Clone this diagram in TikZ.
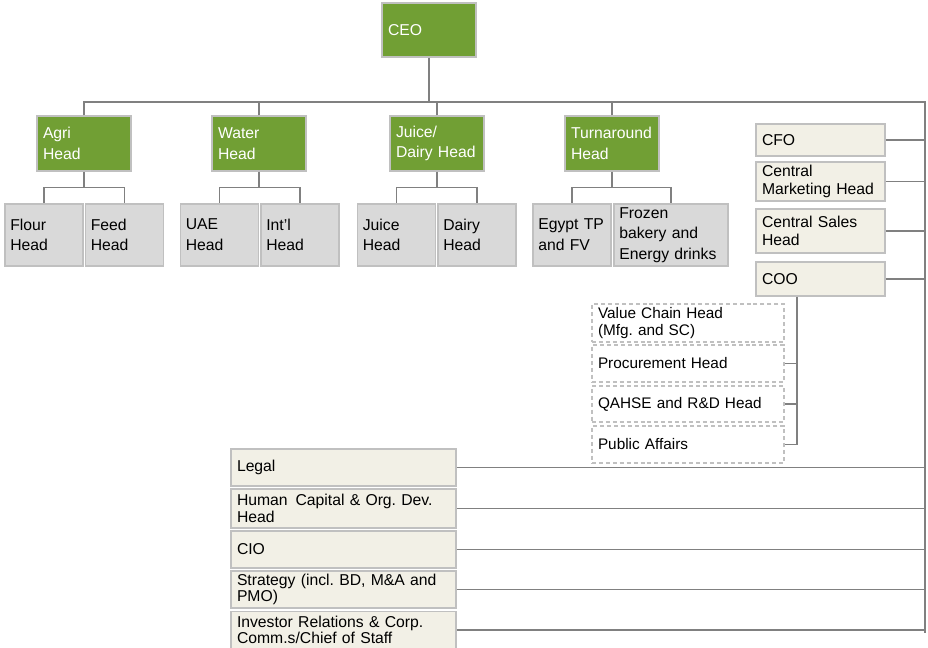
\documentclass[tikz,border=0pt]{standalone}
\usepackage{fontspec}
\setmainfont{Liberation Sans}
\frenchspacing
\definecolor{orggreen}{RGB}{113,159,52}
\definecolor{orggrey}{RGB}{217,217,217}
\definecolor{orgcream}{RGB}{242,240,230}
\definecolor{orgedge}{RGB}{192,192,192}
\definecolor{orgline}{RGB}{128,128,128}
\begin{document}
\begin{tikzpicture}[x=0.75pt, y=-0.75pt, font=\fontsize{11.8}{15.5}\selectfont]

	\tikzstyle{box}=[rectangle, draw=orgedge, line width=0.9pt, align=left, inner ysep=1pt, inner xsep=4.5pt]
	\tikzstyle{head}=[box, fill=orggreen, text=white, text width=61.5pt, minimum height=41.25pt]
	\tikzstyle{unit}=[box, fill=orggrey, inner xsep=4pt, text width=50.5pt, minimum height=46.5pt]
	\tikzstyle{staff}=[box, fill=orgcream, text width=87.75pt, font=\fontsize{11.8}{13}\selectfont]
	\tikzstyle{ops}=[box, dash pattern=on 3pt off 2.2pt, fill=white, text width=135pt, minimum height=27.75pt, font=\fontsize{11.5}{13}\selectfont]
	\tikzstyle{support}=[box, fill=orgcream, text width=159.75pt, minimum height=27.75pt, font=\fontsize{11.8}{12.5}\selectfont]
	\tikzstyle{link}=[draw=orgline, line width=1.1pt]

	\useasboundingbox (0,0) rectangle (928,648);

	% top of the tree
	\node at (429,30) (ceo) [head, minimum height=40.5pt] {CEO};

	\node at (84,143.5) (agri) [head] {Agri\\Head};
	\node at (259,143.5) (water) [head] {Water\\Head};
	\node at (437,143.5) (juicedairy) [head] {Juice/\\Dairy Head};
	\node at (612,143.5) (turnaround) [head] {Turnaround\\Head};

	\node at (44,235) (flour) [unit] {Flour\\Head};
	\node at (124.5,235) (feed) [unit] {Feed\\Head};
	\node at (219.5,235) (uae) [unit] {UAE\\Head};
	\node at (300,235) (intl) [unit] {Int'l\\Head};
	\node at (396.5,235) (juice) [unit] {Juice\\Head};
	\node at (477,235) (dairy) [unit] {Dairy\\Head};
	\node at (572,235) (egypt) [unit] {Egypt TP\\and FV};
	\node at (671,235) (frozen) [unit, text width=77.5pt] {Frozen\\bakery and\\Energy drinks};

	% central functions
	\node at (820.5,140) (cfo) [staff, minimum height=24pt] {CFO};
	\node at (820.5,181.5) (cmkt) [staff, minimum height=29.25pt] {Central\\Marketing Head};
	\node at (820.5,231) (csales) [staff, minimum height=33pt] {Central Sales\\Head};
	\node at (820.5,279) (coo) [staff, minimum height=25.5pt] {COO};

	\node at (688,323) (vchain) [ops, minimum height=28.5pt] {Value Chain Head\\(Mfg. and SC)};
	\node at (688,363.5) (proc) [ops] {Procurement Head};
	\node at (688,404) (qahse) [ops, minimum height=27pt] {QAHSE and R\&D Head};
	\node at (688,444.5) (pub) [ops] {Public Affairs};

	\node at (343.5,467.5) (legal) [support] {Legal};
	\node at (343.5,508.5) (hcap) [support, minimum height=29.25pt] {Human\enspace Capital \& Org. Dev.\\Head};
	\node at (343.5,549.5) (cio) [support] {CIO};
	\node at (343.5,589.5) (strat) [support] {Strategy (incl. BD, M\&A and\\PMO)};
	\node at (343.5,630) (invrel) [support] {Investor Relations \& Corp.\\Comm.s/Chief of Staff};

	\coordinate (busR) at (925,102);
	\coordinate (spineB) at (925,633);
	\coordinate (cootap) at ([xshift=-17.6pt]coo.south);

	% connectors
	\draw[link] (ceo.south) -- (ceo.south |- busR);
	\draw[link] (agri.north) |- (busR) -- (spineB);
	\draw[link] (water.north) -- (water.north |- busR);
	\draw[link] (juicedairy.north) -- (juicedairy.north |- busR);
	\draw[link] (turnaround.north) -- (turnaround.north |- busR);

	\draw[link] (agri.south) -- ++(0,16) -| (flour.north);
	\draw[link] (agri.south) ++(0,16) -| (feed.north);
	\draw[link] (water.south) -- ++(0,16) -| (uae.north);
	\draw[link] (water.south) ++(0,16) -| (intl.north);
	\draw[link] (juicedairy.south) -- ++(0,16) -| (juice.north);
	\draw[link] (juicedairy.south) ++(0,16) -| (dairy.north);
	\draw[link] (turnaround.south) -- ++(0,16) -| (egypt.north);
	\draw[link] (turnaround.south) ++(0,16) -| (frozen.north);

	\draw[link] (cfo.east) -- (cfo.east -| busR);
	\draw[link] (cmkt.east) -- (cmkt.east -| busR);
	\draw[link] (csales.east) -- (csales.east -| busR);
	\draw[link] (coo.east) -- (coo.east -| busR);

	\draw[link] (cootap) |- (pub.east);
	\draw[link] (proc.east) -- (proc.east -| cootap);
	\draw[link] (qahse.east) -- (qahse.east -| cootap);

	\draw[link] (legal.east) -- (legal.east -| busR);
	\draw[link] (hcap.east) -- (hcap.east -| busR);
	\draw[link] (cio.east) -- (cio.east -| busR);
	\draw[link] (strat.east) -- (strat.east -| busR);
	\draw[link] (invrel.east) -- (invrel.east -| busR);
\end{tikzpicture}
\end{document}
